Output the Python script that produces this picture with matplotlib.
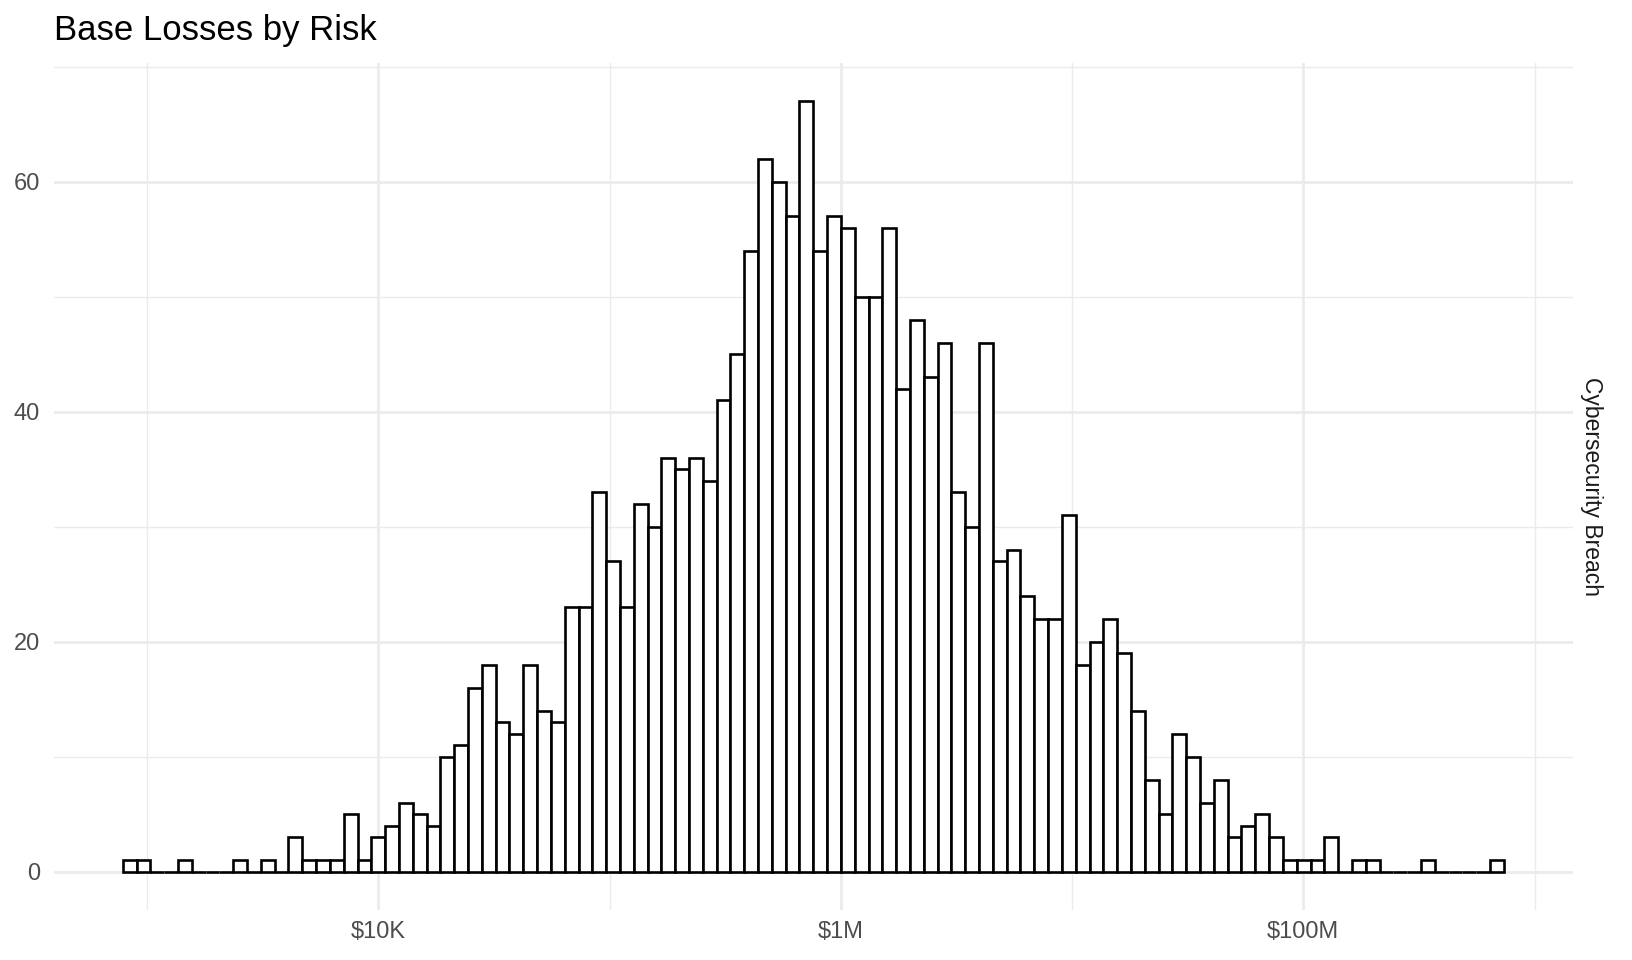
import numpy as np
import matplotlib.pyplot as plt
from matplotlib.ticker import FixedLocator, NullFormatter

plt.rcParams['font.family'] = ['Liberation Sans', 'DejaVu Sans']

# histogram counts, 100 bins on a log10 scale
counts = [1, 1, 0, 0, 1, 0, 0, 0, 1, 0,
          1, 0, 3, 1, 1, 1, 5, 1, 3, 4,
          6, 5, 4, 10, 11, 16, 18, 13, 12, 18,
          14, 13, 23, 23, 33, 27, 23, 32, 30, 36,
          35, 36, 34, 41, 45, 54, 62, 60, 57, 67,
          54, 57, 56, 50, 50, 56, 42, 48, 43, 46,
          33, 30, 46, 27, 28, 24, 22, 22, 31, 18,
          20, 22, 19, 14, 8, 5, 12, 10, 6, 8,
          3, 4, 5, 3, 1, 1, 1, 3, 0, 1,
          1, 0, 0, 0, 1, 0, 0, 0, 0, 1]
log_lo, log_hi = 2.895, 8.867   # log10 of the outer bin edges

x_breaks = [1e4, 1e6, 1e8]
x_labels = ['$10K', '$1M', '$100M']
x_minor = [1e3, 1e5, 1e7, 1e9]
y_breaks = [0, 20, 40, 60]
y_minor = [10, 30, 50, 70]

title = 'Base Losses by Risk'
facet = 'Cybersecurity Breach'

edges = np.logspace(log_lo, log_hi, len(counts) + 1)

fig = plt.figure(figsize=(16.32, 9.6), dpi=100)
ax = fig.add_axes([0.0329, 0.0519, 0.9309, 0.8828])
ax.set_xscale('log')

ax.bar(edges[:-1], counts, width=np.diff(edges), align='edge',
       facecolor='white', edgecolor='black', linewidth=1.9, zorder=3)

# ggplot-like 5% expansion
span = log_hi - log_lo
ax.set_xlim(10 ** (log_lo - 0.05 * span), 10 ** (log_hi + 0.05 * span))
ymax = max(counts)
ax.set_ylim(-0.05 * ymax, ymax * 1.05)

ax.xaxis.set_major_locator(FixedLocator(x_breaks))
ax.set_xticklabels(x_labels)
ax.xaxis.set_minor_locator(FixedLocator(x_minor))
ax.xaxis.set_minor_formatter(NullFormatter())
ax.yaxis.set_major_locator(FixedLocator(y_breaks))
ax.yaxis.set_minor_locator(FixedLocator(y_minor))

ax.grid(which='major', color='#EBEBEB', linewidth=2.0, zorder=0)
ax.grid(which='minor', color='#EBEBEB', linewidth=1.0, zorder=0)
ax.set_axisbelow(True)

ax.tick_params(which='both', length=0)
ax.tick_params(axis='x', pad=8, labelsize=17, labelcolor='#4D4D4D')
ax.tick_params(axis='y', pad=10, labelsize=17, labelcolor='#4D4D4D')
for s in ax.spines.values():
    s.set_visible(False)

fig.text(54 / 1632, 1 - 40 / 960, title, fontsize=25, color='black',
         ha='left', va='baseline')
pos = ax.get_position()
fig.text(1592 / 1632, (pos.y0 + pos.y1) / 2, facet, fontsize=16.5,
         color='#1A1A1A', rotation=-90, ha='center', va='center')

fig.savefig('out.png', dpi=100, facecolor='white')
